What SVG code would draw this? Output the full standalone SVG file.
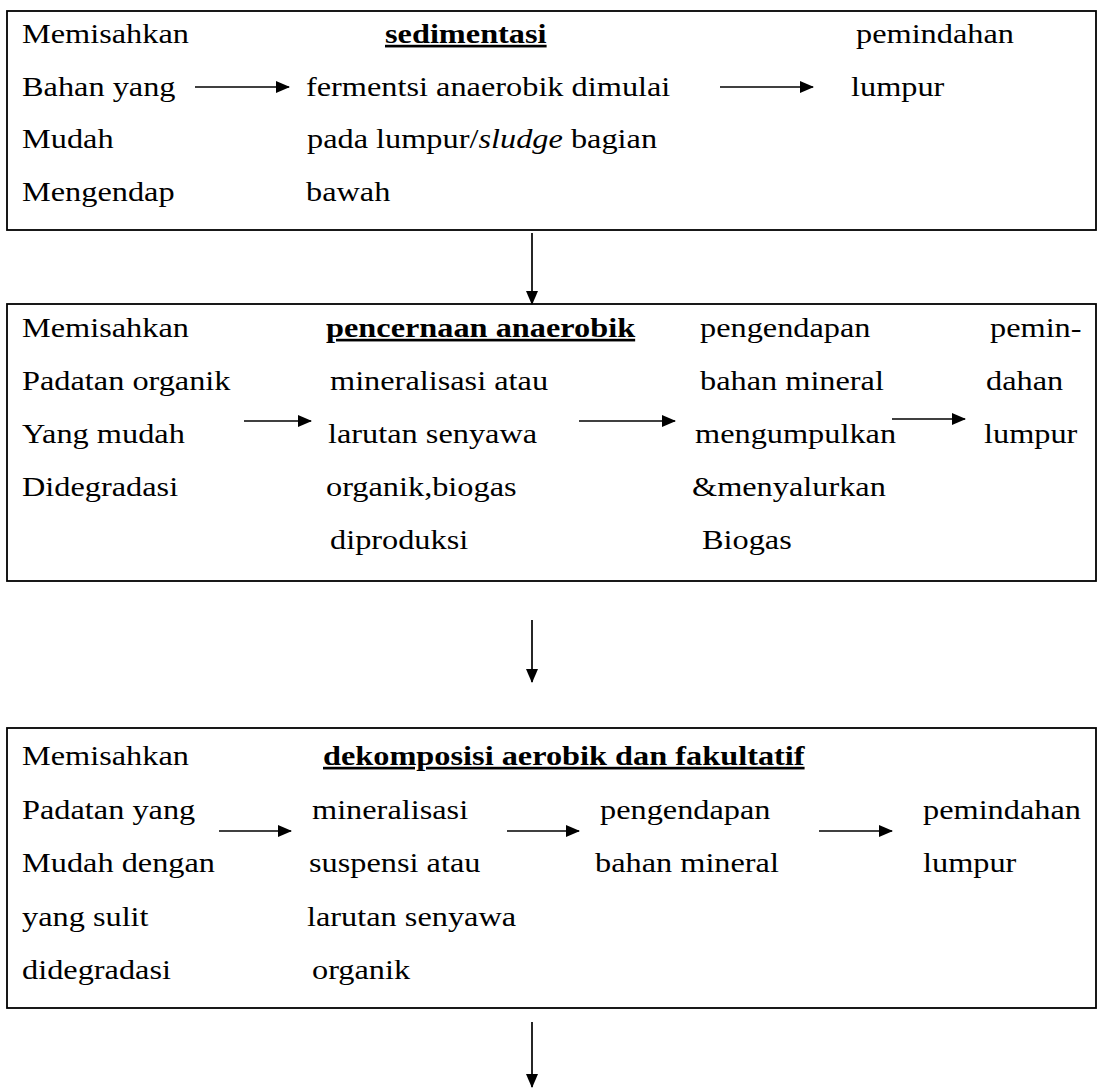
<svg xmlns="http://www.w3.org/2000/svg" width="1097" height="1092" viewBox="0 0 1097 1092">
<style>
.box{fill:none;stroke:#000;stroke-width:1.8}
.t{font-family:"Liberation Serif","Times New Roman",serif;font-size:26.5px;fill:#000}
.b{font-weight:bold;text-decoration:underline}
.arr{stroke:#000;stroke-width:1.7;fill:none;marker-end:url(#ah)}
</style>
<defs>
<marker id="ah" viewBox="0 0 14 12" refX="13" refY="6" markerWidth="14" markerHeight="12" markerUnits="userSpaceOnUse" orient="auto">
<path d="M0,0 L14,6 L0,12 Z" fill="#000"/>
</marker>
</defs>
<rect width="1097" height="1092" fill="#fff"/>
<g id="node-sedimentasi">
<rect class="box" x="7" y="11" width="1089" height="219"/>
<text class="t" transform="matrix(1.22 0 0 1 22 43)">Memisahkan</text>
<text class="t b" transform="matrix(1.22 0 0 1 385 43)">sedimentasi</text>
<text class="t" transform="matrix(1.22 0 0 1 856 43)">pemindahan</text>
<text class="t" transform="matrix(1.22 0 0 1 22 95.5)">Bahan yang</text>
<text class="t" transform="matrix(1.22 0 0 1 306 95.5)">fermentsi anaerobik dimulai</text>
<text class="t" transform="matrix(1.22 0 0 1 851 95.5)">lumpur</text>
<text class="t" transform="matrix(1.22 0 0 1 22 148)">Mudah</text>
<text class="t" transform="matrix(1.22 0 0 1 307 148)">pada lumpur/<tspan font-style="italic">sludge</tspan> bagian</text>
<text class="t" transform="matrix(1.22 0 0 1 22 201)">Mengendap</text>
<text class="t" transform="matrix(1.22 0 0 1 306 201)">bawah</text>
</g>
<g id="node-pencernaan">
<rect class="box" x="7" y="304" width="1089" height="277"/>
<text class="t" transform="matrix(1.22 0 0 1 22 337)">Memisahkan</text>
<text class="t b" transform="matrix(1.22 0 0 1 326 337)">pencernaan anaerobik</text>
<text class="t" transform="matrix(1.22 0 0 1 700 337)">pengendapan</text>
<text class="t" transform="matrix(1.22 0 0 1 990 337)">pemin-</text>
<text class="t" transform="matrix(1.22 0 0 1 22 390)">Padatan organik</text>
<text class="t" transform="matrix(1.22 0 0 1 330 390)">mineralisasi atau</text>
<text class="t" transform="matrix(1.22 0 0 1 700 390)">bahan mineral</text>
<text class="t" transform="matrix(1.22 0 0 1 986 390)">dahan</text>
<text class="t" transform="matrix(1.22 0 0 1 22 443)">Yang mudah</text>
<text class="t" transform="matrix(1.22 0 0 1 328 443)">larutan senyawa</text>
<text class="t" transform="matrix(1.22 0 0 1 695 443)">mengumpulkan</text>
<text class="t" transform="matrix(1.22 0 0 1 984 443)">lumpur</text>
<text class="t" transform="matrix(1.22 0 0 1 22 496)">Didegradasi</text>
<text class="t" transform="matrix(1.22 0 0 1 326 496)">organik,biogas</text>
<text class="t" transform="matrix(1.22 0 0 1 692 496)">&amp;menyalurkan</text>
<text class="t" transform="matrix(1.22 0 0 1 330 549)">diproduksi</text>
<text class="t" transform="matrix(1.22 0 0 1 702 549)">Biogas</text>
</g>
<g id="node-dekomposisi">
<rect class="box" x="7" y="728" width="1089" height="280"/>
<text class="t" transform="matrix(1.22 0 0 1 22 765)">Memisahkan</text>
<text class="t b" transform="matrix(1.22 0 0 1 323 765)">dekomposisi aerobik dan fakultatif</text>
<text class="t" transform="matrix(1.22 0 0 1 22 818.5)">Padatan yang</text>
<text class="t" transform="matrix(1.22 0 0 1 312 818.5)">mineralisasi</text>
<text class="t" transform="matrix(1.22 0 0 1 600 818.5)">pengendapan</text>
<text class="t" transform="matrix(1.22 0 0 1 923 818.5)">pemindahan</text>
<text class="t" transform="matrix(1.22 0 0 1 22 872)">Mudah dengan</text>
<text class="t" transform="matrix(1.22 0 0 1 309 872)">suspensi atau</text>
<text class="t" transform="matrix(1.22 0 0 1 595 872)">bahan mineral</text>
<text class="t" transform="matrix(1.22 0 0 1 923 872)">lumpur</text>
<text class="t" transform="matrix(1.22 0 0 1 22 925.5)">yang sulit</text>
<text class="t" transform="matrix(1.22 0 0 1 307 925.5)">larutan senyawa</text>
<text class="t" transform="matrix(1.22 0 0 1 22 979)">didegradasi</text>
<text class="t" transform="matrix(1.22 0 0 1 312 979)">organik</text>
</g>
<g id="connectors">
<line class="arr" x1="195" y1="87" x2="289" y2="87"/>
<line class="arr" x1="720" y1="87" x2="813" y2="87"/>
<line class="arr" x1="532" y1="233" x2="532" y2="304"/>
<line class="arr" x1="244" y1="421" x2="311" y2="421"/>
<line class="arr" x1="579" y1="421" x2="675" y2="421"/>
<line class="arr" x1="892" y1="419" x2="965" y2="419"/>
<line class="arr" x1="532" y1="620" x2="532" y2="682"/>
<line class="arr" x1="219" y1="831" x2="291" y2="831"/>
<line class="arr" x1="507" y1="831" x2="579" y2="831"/>
<line class="arr" x1="819" y1="831" x2="892" y2="831"/>
<line class="arr" x1="532" y1="1022" x2="532" y2="1087"/>
</g>
</svg>
